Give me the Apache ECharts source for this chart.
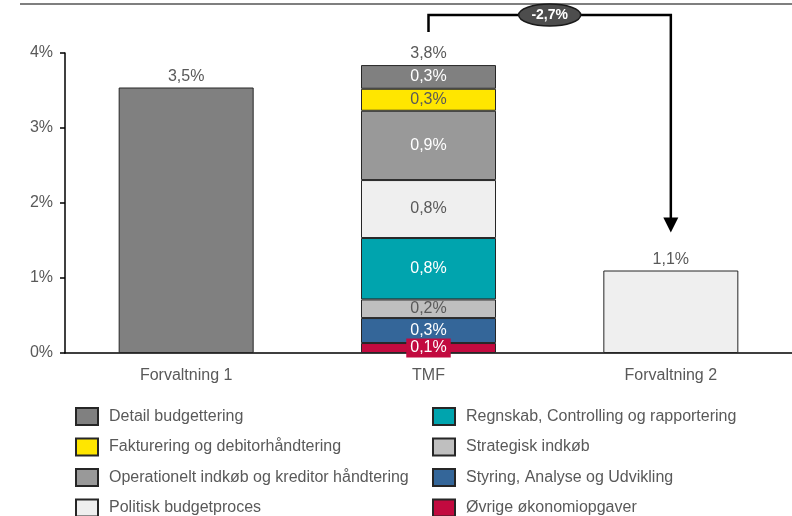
<!DOCTYPE html>
<html>
<head>
<meta charset="utf-8">
<script src="https://cdn.jsdelivr.net/npm/echarts@6/dist/echarts.min.js"></script>
<style>html,body{margin:0;padding:0;background:#fff;}#c{width:792px;height:516px;}</style>
</head>
<body>
<div id="c"></div>
<script>
// ---- data ----
const categories = ['Forvaltning 1', 'TMF', 'Forvaltning 2'];
const forvaltningValues = [3.54, null, 1.10];
// TMF breakdown, stack order bottom -> top
const segmentNames = [
  'Øvrige økonomiopgaver',
  'Styring, Analyse og Udvikling',
  'Strategisk indkøb',
  'Regnskab, Controlling og rapportering',
  'Politisk budgetproces',
  'Operationelt indkøb og kreditor håndtering',
  'Fakturering og debitorhåndtering',
  'Detail budgettering'
];
const segmentValues = [0.133, 0.333, 0.248, 0.819, 0.773, 0.924, 0.293, 0.316];
const yTicks = [0, 1, 2, 3, 4];
const legendCol1 = ['Detail budgettering', 'Fakturering og debitorhåndtering', 'Operationelt indkøb og kreditor håndtering', 'Politisk budgetproces'];
const legendCol2 = ['Regnskab, Controlling og rapportering', 'Strategisk indkøb', 'Styring, Analyse og Udvikling', 'Øvrige økonomiopgaver'];

// ---- styles ----
const segColors = ['#C20A3F', '#346699', '#BFBFBF', '#00A4AE', '#EFEFEF', '#999999', '#FFE600', '#808080'];
const segLabelColors = ['#ffffff', '#ffffff', '#595959', '#ffffff', '#595959', '#ffffff', '#595959', '#ffffff'];
const forvColors = ['#808080', '#EFEFEF', '#EFEFEF'];
const FONT = '"Liberation Sans", Arial, sans-serif';
const GRAY = '#595959';
const fmt = v => v.toFixed(1).replace('.', ',') + '%';
const tmfTotal = segmentValues.reduce((a, b) => a + b, 0);

const chart = echarts.init(document.getElementById('c'), null, {renderer: 'canvas'});

const series = segmentNames.map((name, i) => ({
  name: name,
  type: 'bar',
  stack: 'a',
  barWidth: 135,
  data: categories.map((c, j) => j === 1 ? segmentValues[i] : '-'),
  itemStyle: {color: segColors[i], borderColor: '#262626', borderWidth: 1},
  label: Object.assign({
    show: true, position: 'inside', color: segLabelColors[i], fontFamily: FONT, fontSize: 16,
    formatter: p => fmt(p.value)
  }, i === 0 ? {backgroundColor: segColors[0], padding: [2, 4, 1, 4]} : {})
}));

series.push({
  name: 'Forvaltning',
  type: 'bar',
  stack: 'a',
  barWidth: 135,
  data: forvaltningValues.map((v, j) => {
    if (v === null) {
      return {value: 0, itemStyle: {color: 'rgba(0,0,0,0)', borderWidth: 0}, label: {formatter: fmt(tmfTotal)}};
    }
    return {value: v, itemStyle: {color: forvColors[j]}};
  }),
  itemStyle: {borderColor: '#262626', borderWidth: 1},
  label: {show: true, position: 'top', distance: 3, color: GRAY, fontFamily: FONT, fontSize: 16,
    formatter: p => fmt(p.value)}
});

const legendBase = {
  orient: 'vertical',
  top: 402,
  height: 140,
  itemWidth: 22,
  itemHeight: 17,
  itemGap: 11.5,
  icon: 'rect',
  selectedMode: false,
  textStyle: {color: GRAY, fontFamily: FONT, fontSize: 16, padding: [0, 0, 0, 6]}
};

chart.setOption({
  animation: false,
  backgroundColor: '#ffffff',
  textStyle: {fontFamily: FONT},
  grid: {left: 65, right: 0, top: 53, bottom: 163},
  xAxis: {
    type: 'category',
    data: categories,
    axisLine: {lineStyle: {color: '#000', width: 1.5}},
    axisTick: {show: false},
    axisLabel: {color: GRAY, fontFamily: FONT, fontSize: 16, margin: 15}
  },
  yAxis: {
    type: 'value',
    min: yTicks[0], max: yTicks[yTicks.length - 1], interval: 1,
    splitLine: {show: false},
    axisLine: {show: true, lineStyle: {color: '#000', width: 1.5}},
    axisTick: {show: true, length: 5, lineStyle: {color: '#000', width: 1.5}},
    axisLabel: {color: GRAY, fontFamily: FONT, fontSize: 16, margin: 12, formatter: v => v + '%'}
  },
  legend: [
    Object.assign({}, legendBase, {left: 70, data: legendCol1}),
    Object.assign({}, legendBase, {left: 427, data: legendCol2})
  ],
  series: series
});

// ---- annotation bracket computed from data positions ----
const xT = chart.convertToPixel({xAxisIndex: 0}, categories[1]);
const xF = chart.convertToPixel({xAxisIndex: 0}, categories[2]);
const yTot = chart.convertToPixel({yAxisIndex: 0}, tmfTotal);
const yF = chart.convertToPixel({yAxisIndex: 0}, forvaltningValues[2]);
const yTop = chart.convertToPixel({yAxisIndex: 0}, yTicks[yTicks.length - 1]) - 38;
const tipY = yF - 38;
const headH = 15, headW = 15;
const diff = tmfTotal - forvaltningValues[2];

chart.setOption({
  graphic: [
    {type: 'line', shape: {x1: 20, y1: 4, x2: 792, y2: 4}, style: {stroke: '#7f7f7f', lineWidth: 2}, z: 10},
    {type: 'polyline', shape: {points: [[xT, yTot - 33], [xT, yTop], [xF, yTop], [xF, tipY - headH + 1]]},
      style: {stroke: '#000', lineWidth: 2.5, fill: null}, z: 10},
    {type: 'polygon', shape: {points: [[xF - headW / 2, tipY - headH], [xF + headW / 2, tipY - headH], [xF, tipY]]},
      style: {fill: '#000'}, z: 10},
    {type: 'ellipse', shape: {cx: (xT + xF) / 2, cy: yTop, rx: 31, ry: 11},
      style: {fill: '#4D4D4D', stroke: '#1a1a1a', lineWidth: 1.5}, z: 11},
    {type: 'text', x: (xT + xF) / 2, y: yTop, z: 12,
      style: {text: '-' + fmt(diff), fill: '#ffffff', font: 'bold 14px ' + FONT, align: 'center', verticalAlign: 'middle'}}
  ]
});
</script>
</body>
</html>
